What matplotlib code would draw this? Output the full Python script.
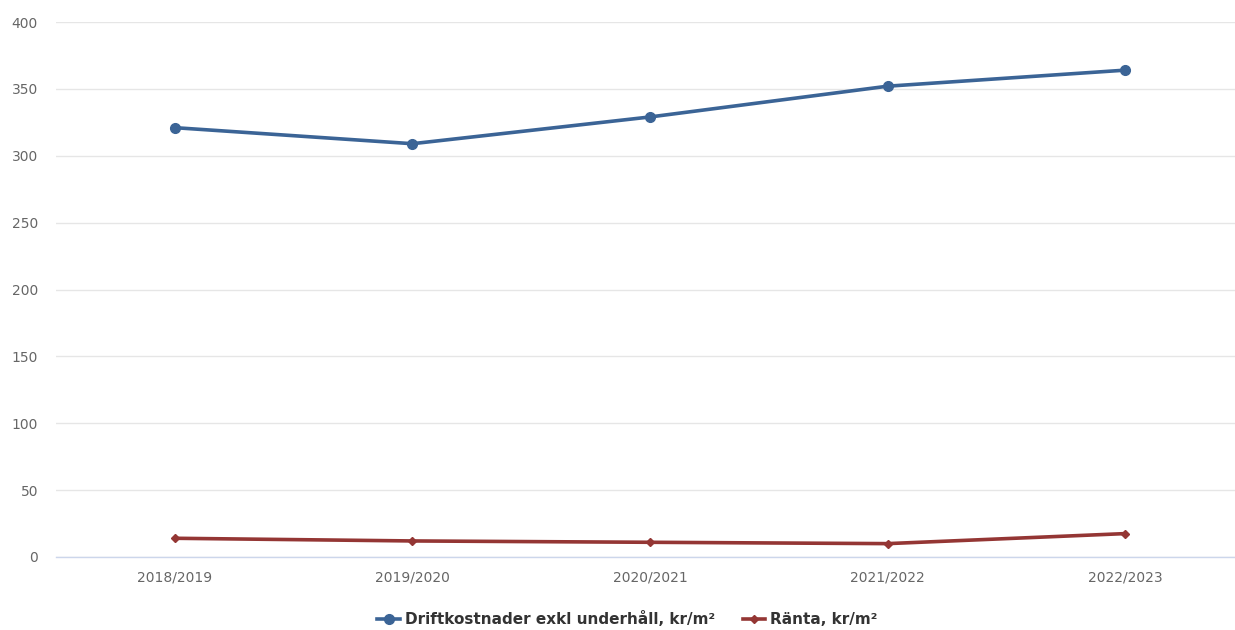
import matplotlib.pyplot as plt

years = ['2018/2019', '2019/2020', '2020/2021', '2021/2022', '2022/2023']
drift = [321, 309, 329, 352, 364]
ranta = [14, 12, 11, 10, 17.5]
yticks = [0, 50, 100, 150, 200, 250, 300, 350, 400]

plt.rcParams['font.family'] = ['DejaVu Sans']

fig = plt.figure(figsize=(12.35, 6.3), dpi=100)
ax = fig.add_axes([56 / 1235, 73 / 630, 1188 / 1235, 535 / 630])

x = list(range(len(years)))
ax.plot(x, drift, color='#3b6496', linewidth=2.6, marker='o', markersize=7,
        label='Driftkostnader exkl underhåll, kr/m²', zorder=3, clip_on=False)
ax.plot(x, ranta, color='#943634', linewidth=2.6, marker='D', markersize=4.5,
        label='Ränta, kr/m²', zorder=3, clip_on=False)

ax.set_xlim(-0.5, 4.5)
ax.set_ylim(0, 400)
ax.set_yticks(yticks)
ax.set_xticks(x)
ax.set_xticklabels(years)

ax.grid(axis='y', color='#e6e6e6', linewidth=1)
ax.set_axisbelow(True)
for side in ['top', 'right', 'left']:
    ax.spines[side].set_visible(False)
ax.spines['bottom'].set_color('#ccd6eb')
ax.spines['bottom'].set_linewidth(1)
ax.tick_params(axis='both', length=0, colors='#666666', labelsize=10)
ax.tick_params(axis='x', pad=10)
ax.tick_params(axis='y', pad=13)

leg = fig.legend(loc='center', bbox_to_anchor=(0.508, 0.0175), ncol=2, frameon=False,
                 handlelength=1.5, columnspacing=1.8, handletextpad=0.3,
                 prop={'weight': 'bold', 'size': 11})
for t in leg.get_texts():
    t.set_color('#333333')

fig.savefig('out.png', dpi=100)
